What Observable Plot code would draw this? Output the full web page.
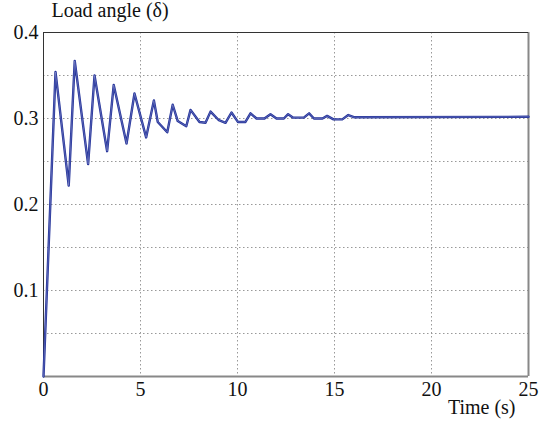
<!DOCTYPE html>
<html>
<head>
<meta charset="utf-8">
<script src="https://cdn.jsdelivr.net/npm/d3@7"></script>
<script src="https://cdn.jsdelivr.net/npm/@observablehq/plot@0.6"></script>
<style>
  html, body { margin: 0; padding: 0; background: #fff; }
  #chart { width: 545px; height: 421px; }
</style>
</head>
<body>
<div id="chart"></div>
<script>
const time = [0, 0.62, 1.30, 1.61, 2.30, 2.63, 3.28, 3.62, 4.28, 4.69, 5.29, 5.69, 5.89, 6.38, 6.66, 6.92, 7.36, 7.58, 8.04, 8.35, 8.61, 9.04, 9.38, 9.69, 10.02, 10.41, 10.67, 10.98, 11.39, 11.70, 12.01, 12.39, 12.61, 12.87, 13.42, 13.69, 13.94, 14.38, 14.62, 14.95, 15.40, 15.71, 16.0, 25];
const loadAngle = [0, 0.354, 0.222, 0.367, 0.247, 0.350, 0.262, 0.339, 0.271, 0.329, 0.278, 0.321, 0.296, 0.284, 0.316, 0.297, 0.291, 0.310, 0.296, 0.295, 0.308, 0.298, 0.295, 0.307, 0.296, 0.296, 0.306, 0.300, 0.300, 0.305, 0.300, 0.300, 0.305, 0.301, 0.301, 0.306, 0.300, 0.300, 0.303, 0.299, 0.299, 0.304, 0.3015, 0.302];
const xTicks = [0, 5, 10, 15, 20, 25];
const yTicks = [0.1, 0.2, 0.3, 0.4];
const xGrid = [5, 10, 15, 20];
const yGrid = [0.05, 0.1, 0.15, 0.2, 0.25, 0.3, 0.35];
const titleText = "Load angle (δ)";
const xLabelText = "Time (s)";

const data = time.map((t, i) => ({t, v: loadAngle[i]}));

const chart = Plot.plot({
  width: 545,
  height: 421,
  marginLeft: 43,
  marginRight: 17,
  marginTop: 32,
  marginBottom: 45,
  style: {fontFamily: "'Liberation Serif', 'DejaVu Serif', serif", fontSize: "20px", color: "#111", background: "#fff"},
  x: {domain: [0, 25], ticks: xTicks, tickSize: 0, tickPadding: 5, label: null},
  y: {domain: [0, 0.4], ticks: yTicks, tickSize: 0, tickPadding: 5, label: null, tickFormat: d3.format(".1f")},
  marks: [
    Plot.ruleX(xGrid, {stroke: "#999", strokeWidth: 1, strokeDasharray: "1.5,2.5", strokeOpacity: 1}),
    Plot.ruleY(yGrid, {stroke: "#999", strokeWidth: 1, strokeDasharray: "1.5,2.5", strokeOpacity: 1}),
    Plot.ruleX([25], {stroke: "#888", strokeWidth: 2}),
    Plot.ruleY([0], {stroke: "#888", strokeWidth: 2}),
    Plot.ruleY([0.4], {stroke: "#333", strokeWidth: 1}),
    Plot.ruleX([0], {stroke: "#333", strokeWidth: 1}),
    Plot.line(data, {x: "t", y: "v", stroke: "#23329a", strokeWidth: 2.4, curve: "linear"}),
    Plot.line(data, {x: "t", y: "v", stroke: "#e4e7f6", strokeWidth: 0.5, strokeOpacity: 0.55, curve: "linear"}),
    Plot.text([titleText], {frameAnchor: "top-left", dx: 8, dy: -16, textAnchor: "start", lineAnchor: "bottom", fontSize: 20, fill: "#111"}),
    Plot.text([xLabelText], {frameAnchor: "bottom-right", dx: -13, dy: 37, textAnchor: "end", lineAnchor: "bottom", fontSize: 20, fill: "#111"})
  ]
});
document.getElementById("chart").appendChild(chart);
</script>
</body>
</html>
